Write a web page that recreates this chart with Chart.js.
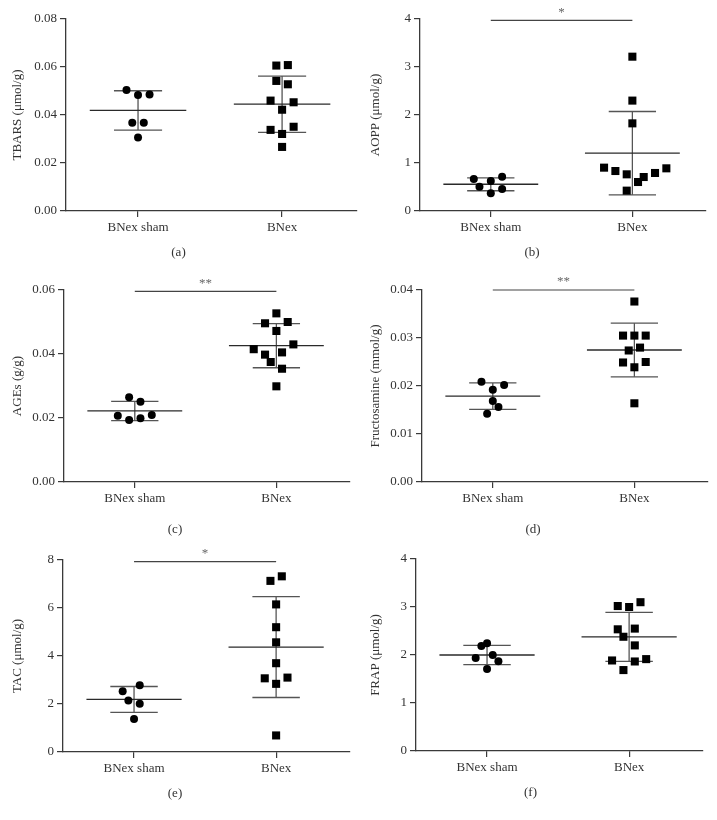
<!DOCTYPE html>
<html>
<head>
<meta charset="utf-8">
<script src="https://cdn.jsdelivr.net/npm/chart.js@4"></script>
<style>
  body { margin: 0; background: #fff; }
  .fig { position: relative; width: 717px; height: 820px; }
  .fig canvas { position: absolute; }
</style>
</head>
<body>
<div class="fig" id="fig"></div>
<script>
const groups = ['BNex sham', 'BNex'];

// (a) TBARS
const aShamY = [0.0504, 0.0483, 0.0485, 0.0368, 0.0368, 0.0306];
const aShamX = [0.92, 1.0, 1.08, 0.96, 1.04, 1.0];
const aBnexY = [0.0606, 0.0608, 0.0542, 0.0528, 0.0460, 0.0453, 0.0422, 0.0338, 0.0351, 0.0321, 0.0267];
const aBnexX = [1.96, 2.04, 1.96, 2.04, 1.92, 2.08, 2.0, 1.92, 2.08, 2.0, 2.0];
const aMean = [0.0419, 0.0445];
const aSd = [0.0082, 0.0117];
const aTicks = [0, 0.02, 0.04, 0.06, 0.08];
const aTickLabels = ['0.00', '0.02', '0.04', '0.06', '0.08'];

// (b) AOPP
const bShamY = [0.667, 0.507, 0.625, 0.715, 0.368, 0.458];
const bShamX = [0.88, 0.92, 1.0, 1.08, 1.0, 1.08];
const bBnexY = [3.215, 2.30, 1.826, 0.903, 0.833, 0.764, 0.604, 0.708, 0.792, 0.889, 0.424];
const bBnexX = [2.0, 2.0, 2.0, 1.8, 1.88, 1.96, 2.04, 2.08, 2.16, 2.24, 1.96];
const bMean = [0.557, 1.205];
const bSd = [0.135, 0.868];
const bTicks = [0, 1, 2, 3, 4];
const bTickLabels = ['0', '1', '2', '3', '4'];

// (c) AGEs
const cShamY = [0.0265, 0.0251, 0.0207, 0.0194, 0.0199, 0.0209];
const cShamX = [0.96, 1.04, 0.88, 0.96, 1.04, 1.12];
const cBnexY = [0.0527, 0.0496, 0.0500, 0.0472, 0.0415, 0.0430, 0.0398, 0.0405, 0.0375, 0.0354, 0.0299];
const cBnexX = [2.0, 1.92, 2.08, 2.0, 1.84, 2.12, 1.92, 2.04, 1.96, 2.04, 2.0];
const cMean = [0.0222, 0.0426];
const cSd = [0.0030, 0.0069];
const cTicks = [0, 0.02, 0.04, 0.06];
const cTickLabels = ['0.00', '0.02', '0.04', '0.06'];

// (d) Fructosamine
const dShamY = [0.0209, 0.0202, 0.0192, 0.0169, 0.0156, 0.0142];
const dShamX = [0.92, 1.08, 1.0, 1.0, 1.04, 0.96];
const dBnexY = [0.0376, 0.0305, 0.0305, 0.0305, 0.0274, 0.0280, 0.0249, 0.0250, 0.0239, 0.0164];
const dBnexX = [2.0, 1.92, 2.0, 2.08, 1.96, 2.04, 1.92, 2.08, 2.0, 2.0];
const dMean = [0.0179, 0.0275];
const dSd = [0.00275, 0.0056];
const dTicks = [0, 0.01, 0.02, 0.03, 0.04];
const dTickLabels = ['0.00', '0.01', '0.02', '0.03', '0.04'];

// (e) TAC
const eShamY = [2.53, 2.78, 2.15, 2.01, 1.37];
const eShamX = [0.92, 1.04, 0.96, 1.04, 1.0];
const eBnexY = [7.13, 7.32, 6.15, 5.20, 4.57, 3.70, 3.07, 3.10, 2.84, 0.69];
const eBnexX = [1.96, 2.04, 2.0, 2.0, 2.0, 2.0, 1.92, 2.08, 2.0, 2.0];
const eMean = [2.19, 4.37];
const eSd = [0.54, 2.1];
const eTicks = [0, 2, 4, 6, 8];
const eTickLabels = ['0', '2', '4', '6', '8'];

// (f) FRAP
const fShamY = [2.19, 2.245, 1.94, 2.0, 1.87, 1.71];
const fShamX = [0.96, 1.0, 0.92, 1.04, 1.08, 1.0];
const fBnexY = [3.02, 3.0, 3.10, 2.535, 2.55, 2.38, 2.20, 1.886, 1.865, 1.914, 1.686];
const fBnexX = [1.92, 2.0, 2.08, 1.92, 2.04, 1.96, 2.04, 1.88, 2.04, 2.12, 1.96];
const fMean = [2.0, 2.377];
const fSd = [0.2, 0.51];
const fTicks = [0, 1, 2, 3, 4];
const fTickLabels = ['0', '1', '2', '3', '4'];

// significance bars: [y value, label]
const bSig = [3.97, '*'];
const cSig = [0.0596, '**'];
const dSig = [0.0400, '**'];
const eSig = [7.93, '*'];

const panels = [
  { cap: '(a)', title: 'TBARS (\u03bcmol/g)', sx: aShamX, sy: aShamY, bx: aBnexX, by: aBnexY, mean: aMean, sd: aSd, ticks: aTicks, labels: aTickLabels, sig: null,
    left: 0, axisX: 66, right: 357, top: 19, capGap: 4 },
  { cap: '(b)', title: 'AOPP (\u03bcmol/g)', sx: bShamX, sy: bShamY, bx: bBnexX, by: bBnexY, mean: bMean, sd: bSd, ticks: bTicks, labels: bTickLabels, sig: bSig,
    left: 358, axisX: 420, right: 706, top: 19, capGap: 4 },
  { cap: '(c)', title: 'AGEs (g/g)', sx: cShamX, sy: cShamY, bx: cBnexX, by: cBnexY, mean: cMean, sd: cSd, ticks: cTicks, labels: cTickLabels, sig: cSig,
    left: 0, axisX: 64, right: 350, top: 290, capGap: 10 },
  { cap: '(d)', title: 'Fructosamine (mmol/g)', sx: dShamX, sy: dShamY, bx: dBnexX, by: dBnexY, mean: dMean, sd: dSd, ticks: dTicks, labels: dTickLabels, sig: dSig,
    left: 358, axisX: 422, right: 708, top: 290, capGap: 10 },
  { cap: '(e)', title: 'TAC (\u03bcmol/g)', sx: eShamX, sy: eShamY, bx: eBnexX, by: eBnexY, mean: eMean, sd: eSd, ticks: eTicks, labels: eTickLabels, sig: eSig,
    left: 0, axisX: 63, right: 350, top: 560, capGap: 4 },
  { cap: '(f)', title: 'FRAP (\u03bcmol/g)', sx: fShamX, sy: fShamY, bx: fBnexX, by: fBnexY, mean: fMean, sd: fSd, ticks: fTicks, labels: fTickLabels, sig: null,
    left: 358, axisX: 416, right: 703, top: 559, capGap: 4 },
];

const FONT = 'Liberation Serif, Times New Roman, serif';
const TXT = '#333';
const AX = '#3a3a3a';
const PLOT_H = 192, PAD_TOP = 20, X_H = 30, CAP_LH = 15.6;

function seg(x0, x1, y0, y1, color, w) {
  return { type: 'line', data: [{ x: x0, y: y0 }, { x: x1, y: y1 }], borderColor: color, borderWidth: w,
    pointRadius: 0, fill: false, clip: false };
}

function errorBars(c, m, s) {
  return [
    seg(c - 0.335, c + 0.335, m, m, '#2a2a2a', 1.3),
    seg(c - 0.167, c + 0.167, m + s, m + s, '#555', 1.3),
    seg(c - 0.167, c + 0.167, m - s, m - s, '#555', 1.3),
    seg(c, c, m - s, m + s, '#555', 1.3),
  ];
}

const starPlugin = {
  id: 'star',
  afterDatasetsDraw(chart) {
    const sig = chart.options.plugins.star.sig;
    if (!sig) return;
    const { ctx, scales } = chart;
    ctx.save();
    ctx.fillStyle = '#666';
    ctx.font = '13px ' + FONT;
    ctx.textAlign = 'center';
    ctx.textBaseline = 'middle';
    ctx.fillText(sig[1], scales.x.getPixelForValue(1.5), scales.y.getPixelForValue(sig[0]) - 8);
    ctx.restore();
  }
};

const fig = document.getElementById('fig');
panels.forEach(p => {
  const cv = document.createElement('canvas');
  const w = p.right + 8 - p.left;
  const h = 270;
  cv.width = w; cv.height = h;
  cv.style.left = p.left + 'px';
  cv.style.top = (p.top - PAD_TOP) + 'px';
  cv.style.width = w + 'px'; cv.style.height = h + 'px';
  fig.appendChild(cv);

  const capBlock = CAP_LH + p.capGap;
  const padBottom = h - PAD_TOP - PLOT_H - X_H - capBlock;

  const datasets = [
    { type: 'scatter', data: p.sx.map((x, i) => ({ x, y: p.sy[i] })), pointStyle: 'circle', pointRadius: 4,
      backgroundColor: '#000', borderColor: '#000', borderWidth: 0, clip: false },
    { type: 'scatter', data: p.bx.map((x, i) => ({ x, y: p.by[i] })), pointStyle: 'rect', pointRadius: 5.7,
      backgroundColor: '#000', borderColor: '#000', borderWidth: 0, clip: false },
    ...errorBars(1, p.mean[0], p.sd[0]),
    ...errorBars(2, p.mean[1], p.sd[1]),
  ];
  if (p.sig) datasets.push(seg(1, 2, p.sig[0], p.sig[0], '#444', 1.2));

  new Chart(cv.getContext('2d'), {
    data: { datasets },
    plugins: [starPlugin],
    options: {
      responsive: false,
      animation: false,
      devicePixelRatio: 1,
      layout: { padding: { top: PAD_TOP, right: 8, left: 0, bottom: padBottom } },
      plugins: {
        legend: { display: false },
        tooltip: { enabled: false },
        title: { display: true, text: p.cap, position: 'bottom', color: TXT,
          font: { family: FONT, size: 13, weight: 'normal' }, padding: { top: p.capGap, bottom: 0 } },
        star: { sig: p.sig },
      },
      scales: {
        x: {
          type: 'linear', min: 0.5, max: 2.52,
          afterBuildTicks: s => { s.ticks = [{ value: 1 }, { value: 2 }]; },
          afterFit: s => { s.height = X_H; },
          ticks: { callback: (v, i) => groups[i], color: TXT, font: { family: FONT, size: 13 }, padding: 3, maxRotation: 0 },
          grid: { drawOnChartArea: false, drawTicks: true, tickLength: 6, color: AX, lineWidth: 1.2 },
          border: { display: true, color: AX, width: 1.3 },
        },
        y: {
          type: 'linear', min: p.ticks[0], max: p.ticks[p.ticks.length - 1],
          afterBuildTicks: s => { s.ticks = p.ticks.map(v => ({ value: v })); },
          afterFit: s => { s.width = p.axisX - p.left; },
          ticks: { callback: (v, i) => p.labels[i], color: TXT, font: { family: FONT, size: 13 }, padding: 3 },
          grid: { drawOnChartArea: false, drawTicks: true, tickLength: 6, color: AX, lineWidth: 1.2 },
          border: { display: true, color: AX, width: 1.3 },
          title: { display: true, text: p.title, color: TXT, font: { family: FONT, size: 13 }, padding: { top: 10, bottom: 0 } },
        },
      },
    },
  });
});
</script>
</body>
</html>
